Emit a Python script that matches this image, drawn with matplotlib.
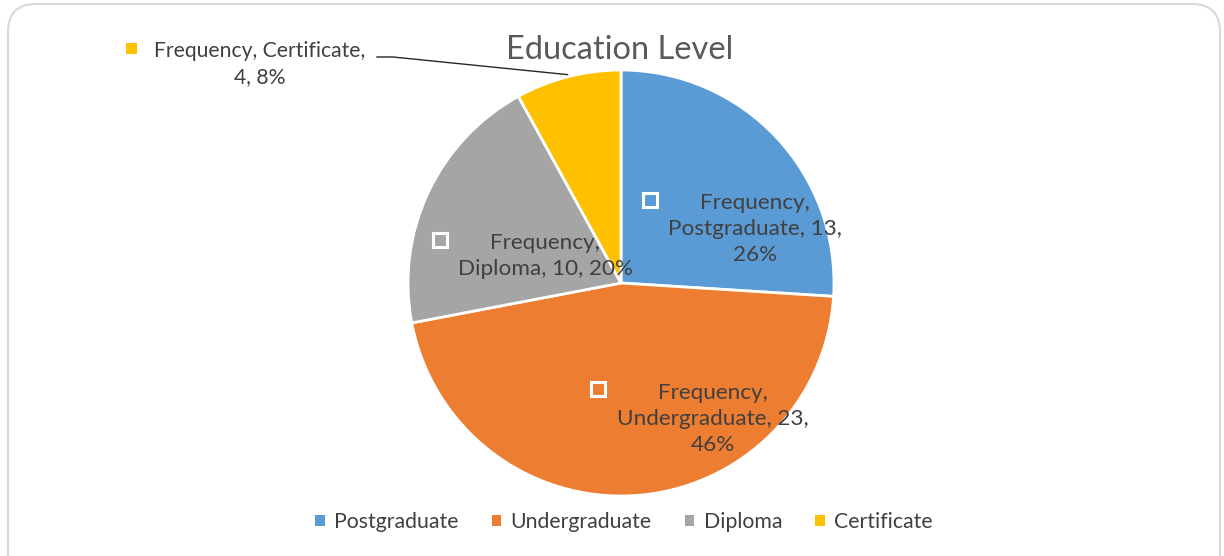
import matplotlib
matplotlib.use("Agg")
import matplotlib.pyplot as plt
from matplotlib.patches import FancyBboxPatch
from matplotlib.transforms import IdentityTransform
import numpy as np

categories = ["Postgraduate", "Undergraduate", "Diploma", "Certificate"]
frequency = [13, 23, 10, 4]
colors = ["#5B9BD5", "#ED7D31", "#A5A5A5", "#FFC000"]
title = "Education Level"
series_name = "Frequency"

plt.rcParams["font.family"] = ["Lato", "DejaVu Sans"]
TXT = "#404040"

W, H = 1224, 556
fig = plt.figure(figsize=(W / 100, H / 100), dpi=100)
fig.patch.set_facecolor("white")

# rounded chart-area border (pixel coords)
border = FancyBboxPatch((8, -30), 1212, 582, boxstyle="round,pad=0,rounding_size=28",
                        transform=IdentityTransform(), facecolor="none",
                        edgecolor="#D9D9D9", linewidth=1.5, zorder=-1)
fig.add_artist(border)

cx, cy, r = 621, 283, 213
ax = fig.add_axes([(cx - r) / W, (H - cy - r) / H, 2 * r / W, 2 * r / H])
wedges, _ = ax.pie(frequency, colors=colors, startangle=90, counterclock=False,
                   radius=1, wedgeprops=dict(edgecolor="white", linewidth=2))
ax.set_xlim(-1, 1)
ax.set_ylim(-1, 1)
ax.set_aspect("equal")
ax.axis("off")


def px(x, y):
    return (x - cx) / r, (cy - y) / r


total = sum(frequency)
pcts = [round(100 * v / total) for v in frequency]
parts = [(series_name + ",", f"{c}, {v},", f"{p}%") for c, v, p in zip(categories, frequency, pcts)]
texts = [
    f"{parts[0][0]}\n{parts[0][1]}\n{parts[0][2]}",
    f"{parts[1][0]}\n{parts[1][1]}\n{parts[1][2]}",
    f"{parts[2][0]}\n{parts[2][1]} {parts[2][2]}",
    f"{parts[3][0]} {categories[3]},\n{frequency[3]}, {parts[3][2]}",
]
label_pos = [(755, 229), (713, 419), (545, 256), (260, 64)]
key_pos = [(650, 200), (598, 389), (440, 240), (131, 48)]
label_size = [16.2, 16.2, 16.2, 15.2]

for i in range(len(categories)):
    tx, ty = px(*label_pos[i])
    ax.text(tx, ty, texts[i], ha="center", va="center", fontsize=label_size[i], color=TXT,
            linespacing=1.38, clip_on=False)
    kx, ky = px(*key_pos[i])
    ax.plot([kx], [ky], marker="s", markersize=10, markerfacecolor=colors[i],
            markeredgecolor="white", markeredgewidth=2.2, clip_on=False)

# leader line for the certificate label
w = wedges[3]
mid = np.deg2rad((w.theta1 + w.theta2) / 2)
ex, ey = 1.01 * np.cos(mid), 1.01 * np.sin(mid)
p1 = px(377, 57)
p2 = px(393, 57)
ax.plot([p1[0], p2[0], ex], [p1[1], p2[1], ey], color="#262626", linewidth=1, clip_on=False)

fig.text(620 / W, 1 - 50 / H, title, ha="center", va="center", fontsize=23.5, color="#595959")

handles = [plt.Rectangle((0, 0), 1, 1, facecolor=c, edgecolor="none") for c in colors]
fig.legend(handles, categories, loc="center", bbox_to_anchor=(624 / W, 1 - 522 / H),
           ncol=4, frameon=False, fontsize=15.3, labelcolor=TXT, handlelength=0.45,
           handleheight=0.45, handletextpad=0.45, columnspacing=1.55)

fig.savefig("out.png", dpi=100)
